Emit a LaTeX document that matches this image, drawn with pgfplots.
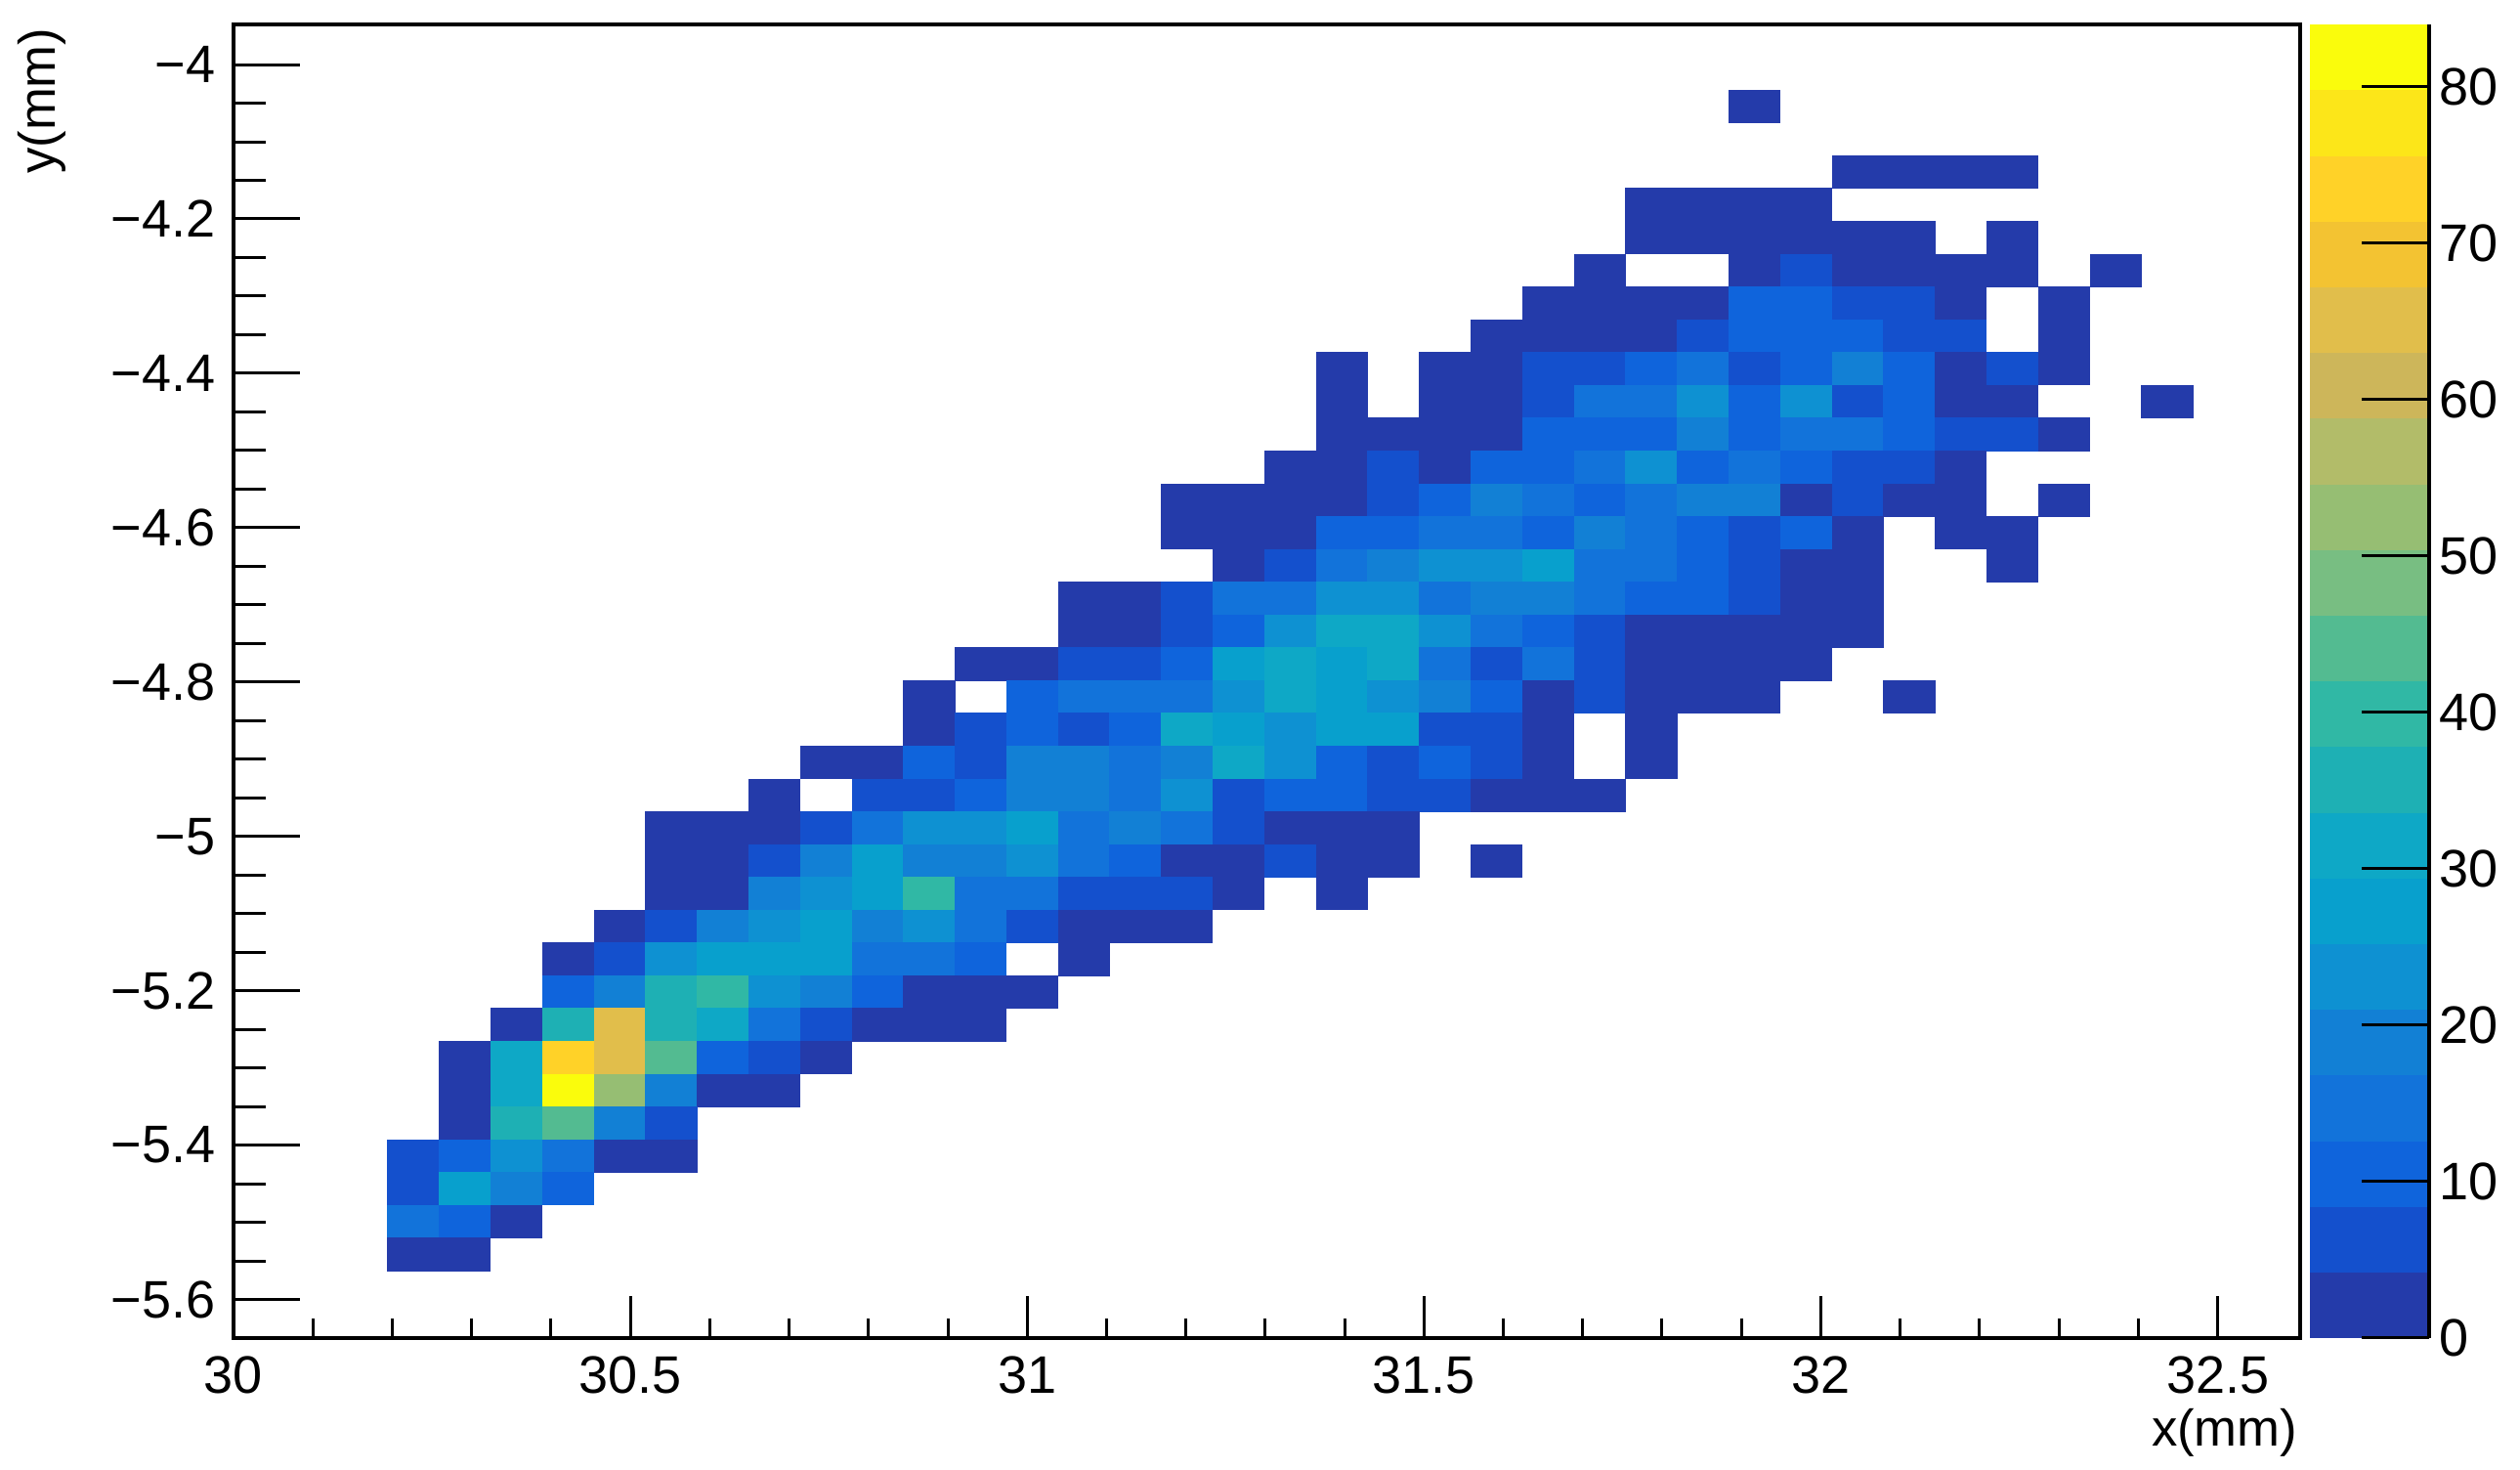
\documentclass[border=0pt]{standalone}
\usepackage{fontspec}
\setmainfont{Liberation Sans}
\usepackage{pgfplots}
\pgfplotsset{compat=1.18}
% one histogram bin: 2115/40 x 1344/40 image pixels at 0.3pt per pixel, with a hair of overlap
\pgfdeclareplotmark{bin}{\pgfpathrectangle{\pgfpoint{-7.98pt}{-5.13pt}}{\pgfpoint{15.96pt}{10.26pt}}\pgfusepathqfill}
\pgfdeclareplotmark{barbin}{\pgfpathrectangle{\pgfpoint{-18.3pt}{-10.16pt}}{\pgfpoint{36.6pt}{20.32pt}}\pgfusepathqfill}
\pgfplotsset{
  colormap={rootbird}{
    rgb255=(36,59,170) rgb255=(20,80,205) rgb255=(15,100,220) rgb255=(18,115,218)
    rgb255=(18,128,213) rgb255=(14,145,210) rgb255=(8,160,205) rgb255=(14,168,198)
    rgb255=(30,176,180) rgb255=(48,184,165) rgb255=(83,187,145) rgb255=(120,190,130)
    rgb255=(150,190,115) rgb255=(178,188,105) rgb255=(205,182,90) rgb255=(225,190,75)
    rgb255=(243,195,50) rgb255=(255,210,40) rgb255=(252,230,25) rgb255=(250,252,12)
  },
  colormap access=piecewise constant,
  point meta min=0, point meta max=84,
}
\begin{document}
\begin{tikzpicture}
\useasboundingbox (0,0) rectangle (773.7pt,451.2pt);
\begin{axis}[
  at={(71.7pt,40.5pt)}, anchor=south west, scale only axis,
  width=634.5pt, height=403.2pt,
  xmin=30, xmax=32.604, ymin=-5.65, ymax=-3.948,
  axis on top,
  axis line style={line width=1.2pt},
  tick align=inside, tick pos=left,
  tick style={black, line width=0.9pt},
  major tick length=20.4pt,
  minor tick length=9.9pt,
  xtick=\empty,
  ytick={-5.6,-5.4,-5.2,-5,-4.8,-4.6,-4.4,-4.2,-4},
  yticklabels={−5.6,−5.4,−5.2,−5,−4.8,−4.6,−4.4,−4.2,−4},
  minor y tick num=3,
  tick label style={font=\fontsize{16.2}{16.2}\selectfont},
  yticklabel style={inner sep=0pt, anchor=east, xshift=-5.4pt},
  ylabel={y(mm)},
  label style={font=\fontsize{15.8}{15.8}\selectfont},
  ylabel style={at={(axis description cs:-0.0865,0.9978)}, anchor=base east, inner sep=0pt},
]
\addplot[scatter, only marks, mark=bin, scatter src=explicit]
  table[row sep=\\, x expr={29.999+0.065*(\thisrow{i}+0.5)}, y expr={-3.948-0.0425*(\thisrow{r}+0.5)}, meta=v]{
i r v\\
29 2 2\\
31 4 2\\ 32 4 2\\ 33 4 2\\ 34 4 2\\
27 5 2\\ 28 5 2\\ 29 5 2\\ 30 5 2\\
27 6 2\\ 28 6 2\\ 29 6 2\\ 30 6 2\\ 31 6 2\\ 32 6 2\\ 34 6 2\\
26 7 2\\ 29 7 2\\ 30 7 6\\ 31 7 2\\ 32 7 2\\ 33 7 2\\ 34 7 2\\ 36 7 2\\
25 8 2\\ 26 8 2\\ 27 8 2\\ 28 8 2\\ 29 8 10\\ 30 8 10\\ 31 8 6\\ 32 8 6\\ 33 8 2\\ 35 8 2\\
24 9 2\\ 25 9 2\\ 26 9 2\\ 27 9 2\\ 28 9 6\\ 29 9 10\\ 30 9 10\\ 31 9 10\\ 32 9 6\\ 33 9 6\\ 35 9 2\\
21 10 2\\ 23 10 2\\ 24 10 2\\ 25 10 6\\ 26 10 6\\ 27 10 10\\ 28 10 15\\ 29 10 6\\ 30 10 10\\ 31 10 19\\ 32 10 10\\ 33 10 2\\ 34 10 6\\ 35 10 2\\
21 11 2\\ 23 11 2\\ 24 11 2\\ 25 11 6\\ 26 11 15\\ 27 11 15\\ 28 11 23\\ 29 11 10\\ 30 11 23\\ 31 11 6\\ 32 11 10\\ 33 11 2\\ 34 11 2\\ 37 11 2\\
21 12 2\\ 22 12 2\\ 23 12 2\\ 24 12 2\\ 25 12 10\\ 26 12 10\\ 27 12 10\\ 28 12 19\\ 29 12 10\\ 30 12 15\\ 31 12 15\\ 32 12 10\\ 33 12 6\\ 34 12 6\\ 35 12 2\\
20 13 2\\ 21 13 2\\ 22 13 6\\ 23 13 2\\ 24 13 10\\ 25 13 10\\ 26 13 15\\ 27 13 23\\ 28 13 10\\ 29 13 15\\ 30 13 10\\ 31 13 6\\ 32 13 6\\ 33 13 2\\
18 14 2\\ 19 14 2\\ 20 14 2\\ 21 14 2\\ 22 14 6\\ 23 14 10\\ 24 14 19\\ 25 14 15\\ 26 14 10\\ 27 14 15\\ 28 14 19\\ 29 14 19\\ 30 14 2\\ 31 14 6\\ 32 14 2\\ 33 14 2\\ 35 14 2\\
18 15 2\\ 19 15 2\\ 20 15 2\\ 21 15 10\\ 22 15 10\\ 23 15 15\\ 24 15 15\\ 25 15 10\\ 26 15 19\\ 27 15 15\\ 28 15 10\\ 29 15 6\\ 30 15 10\\ 31 15 2\\ 33 15 2\\ 34 15 2\\
19 16 2\\ 20 16 6\\ 21 16 15\\ 22 16 19\\ 23 16 23\\ 24 16 23\\ 25 16 27\\ 26 16 15\\ 27 16 15\\ 28 16 10\\ 29 16 6\\ 30 16 2\\ 31 16 2\\ 34 16 2\\
16 17 2\\ 17 17 2\\ 18 17 6\\ 19 17 15\\ 20 17 15\\ 21 17 23\\ 22 17 23\\ 23 17 15\\ 24 17 19\\ 25 17 19\\ 26 17 15\\ 27 17 10\\ 28 17 10\\ 29 17 6\\ 30 17 2\\ 31 17 2\\
16 18 2\\ 17 18 2\\ 18 18 6\\ 19 18 10\\ 20 18 23\\ 21 18 32\\ 22 18 32\\ 23 18 23\\ 24 18 15\\ 25 18 10\\ 26 18 6\\ 27 18 2\\ 28 18 2\\ 29 18 2\\ 30 18 2\\ 31 18 2\\
14 19 2\\ 15 19 2\\ 16 19 6\\ 17 19 6\\ 18 19 10\\ 19 19 27\\ 20 19 32\\ 21 19 27\\ 22 19 32\\ 23 19 15\\ 24 19 6\\ 25 19 15\\ 26 19 6\\ 27 19 2\\ 28 19 2\\ 29 19 2\\ 30 19 2\\
13 20 2\\ 15 20 10\\ 16 20 15\\ 17 20 15\\ 18 20 15\\ 19 20 23\\ 20 20 32\\ 21 20 27\\ 22 20 23\\ 23 20 19\\ 24 20 10\\ 25 20 2\\ 26 20 6\\ 27 20 2\\ 28 20 2\\ 29 20 2\\ 32 20 2\\
13 21 2\\ 14 21 6\\ 15 21 10\\ 16 21 6\\ 17 21 10\\ 18 21 32\\ 19 21 27\\ 20 21 23\\ 21 21 27\\ 22 21 27\\ 23 21 6\\ 24 21 6\\ 25 21 2\\ 27 21 2\\
11 22 2\\ 12 22 2\\ 13 22 10\\ 14 22 6\\ 15 22 19\\ 16 22 19\\ 17 22 15\\ 18 22 19\\ 19 22 32\\ 20 22 23\\ 21 22 10\\ 22 22 6\\ 23 22 10\\ 24 22 6\\ 25 22 2\\ 27 22 2\\
10 23 2\\ 12 23 6\\ 13 23 6\\ 14 23 10\\ 15 23 19\\ 16 23 19\\ 17 23 15\\ 18 23 23\\ 19 23 6\\ 20 23 10\\ 21 23 10\\ 22 23 6\\ 23 23 6\\ 24 23 2\\ 25 23 2\\ 26 23 2\\
8 24 2\\ 9 24 2\\ 10 24 2\\ 11 24 6\\ 12 24 15\\ 13 24 23\\ 14 24 23\\ 15 24 27\\ 16 24 15\\ 17 24 19\\ 18 24 15\\ 19 24 6\\ 20 24 2\\ 21 24 2\\ 22 24 2\\
8 25 2\\ 9 25 2\\ 10 25 6\\ 11 25 19\\ 12 25 27\\ 13 25 19\\ 14 25 19\\ 15 25 23\\ 16 25 15\\ 17 25 10\\ 18 25 2\\ 19 25 2\\ 20 25 6\\ 21 25 2\\ 22 25 2\\ 24 25 2\\
8 26 2\\ 9 26 2\\ 10 26 19\\ 11 26 23\\ 12 26 27\\ 13 26 40\\ 14 26 15\\ 15 26 15\\ 16 26 6\\ 17 26 6\\ 18 26 6\\ 19 26 2\\ 21 26 2\\
7 27 2\\ 8 27 6\\ 9 27 19\\ 10 27 23\\ 11 27 27\\ 12 27 19\\ 13 27 23\\ 14 27 15\\ 15 27 6\\ 16 27 2\\ 17 27 2\\ 18 27 2\\
6 28 2\\ 7 28 6\\ 8 28 23\\ 9 28 27\\ 10 28 27\\ 11 28 27\\ 12 28 15\\ 13 28 15\\ 14 28 10\\ 16 28 2\\
6 29 10\\ 7 29 19\\ 8 29 36\\ 9 29 40\\ 10 29 23\\ 11 29 19\\ 12 29 10\\ 13 29 2\\ 14 29 2\\ 15 29 2\\
5 30 2\\ 6 30 36\\ 7 30 65\\ 8 30 36\\ 9 30 32\\ 10 30 15\\ 11 30 6\\ 12 30 2\\ 13 30 2\\ 14 30 2\\
4 31 2\\ 5 31 32\\ 6 31 74\\ 7 31 65\\ 8 31 44\\ 9 31 10\\ 10 31 6\\ 11 31 2\\
4 32 2\\ 5 32 32\\ 6 32 82\\ 7 32 53\\ 8 32 19\\ 9 32 2\\ 10 32 2\\
4 33 2\\ 5 33 36\\ 6 33 44\\ 7 33 19\\ 8 33 6\\
3 34 6\\ 4 34 10\\ 5 34 23\\ 6 34 15\\ 7 34 2\\ 8 34 2\\
3 35 6\\ 4 35 27\\ 5 35 19\\ 6 35 10\\
3 36 15\\ 4 36 10\\ 5 36 2\\
3 37 2\\ 4 37 2\\
};
\end{axis}
% same frame again, for the x ticks, which are shorter than the y ticks
\begin{axis}[
  at={(71.7pt,40.5pt)}, anchor=south west, scale only axis,
  width=634.5pt, height=403.2pt,
  xmin=30, xmax=32.604, ymin=-5.65, ymax=-3.948,
  axis on top,
  axis line style={line width=1.2pt},
  tick align=inside, tick pos=left,
  tick style={black, line width=0.9pt},
  major tick length=12.9pt,
  minor tick length=6pt,
  ytick=\empty,
  xtick={30,30.5,31,31.5,32,32.5},
  xticklabels={30,30.5,31,31.5,32,32.5},
  minor x tick num=4,
  tick label style={font=\fontsize{16.2}{16.2}\selectfont},
  xticklabel style={inner sep=0pt, anchor=north, yshift=-5.4pt},
  xlabel={x(mm)},
  label style={font=\fontsize{15.8}{15.8}\selectfont},
  xlabel style={at={(axis description cs:0.9990,-0.0826)}, anchor=base east, inner sep=0pt},
]
\end{axis}
% colour bar: the 20 colour levels
\begin{axis}[
  at={(709.2pt,40.5pt)}, anchor=south west, scale only axis,
  width=36.6pt, height=403.2pt,
  xmin=0, xmax=1, ymin=0, ymax=84,
  hide axis,
]
\addplot[scatter, only marks, mark=barbin, scatter src=explicit]
  table[row sep=\\, meta=v]{
x y v\\
0.5 2.1 2.1\\ 0.5 6.3 6.3\\ 0.5 10.5 10.5\\ 0.5 14.7 14.7\\ 0.5 18.9 18.9\\
0.5 23.1 23.1\\ 0.5 27.3 27.3\\ 0.5 31.5 31.5\\ 0.5 35.7 35.7\\ 0.5 39.9 39.9\\
0.5 44.1 44.1\\ 0.5 48.3 48.3\\ 0.5 52.5 52.5\\ 0.5 56.7 56.7\\ 0.5 60.9 60.9\\
0.5 65.1 65.1\\ 0.5 69.3 69.3\\ 0.5 73.5 73.5\\ 0.5 77.7 77.7\\ 0.5 81.9 81.9\\
};
\end{axis}
% colour bar: its axis line, ticks and labels, drawn over the levels
\begin{axis}[
  at={(709.2pt,40.5pt)}, anchor=south west, scale only axis,
  width=36.6pt, height=403.2pt,
  xmin=0, xmax=1, ymin=0, ymax=84,
  axis x line=none,
  axis y line*=right,
  axis line style={line width=1.2pt, -},
  tick align=inside,
  ytick={0,10,20,30,40,50,60,70,80},
  tick style={black, line width=0.9pt},
  major tick length=20.7pt,
  tick label style={font=\fontsize{16.2}{16.2}\selectfont},
  yticklabel style={inner sep=0pt, anchor=west, xshift=3pt},
  yticklabels={0,10,20,30,40,50,60,70,80},
]
\end{axis}
\end{tikzpicture}
\end{document}
